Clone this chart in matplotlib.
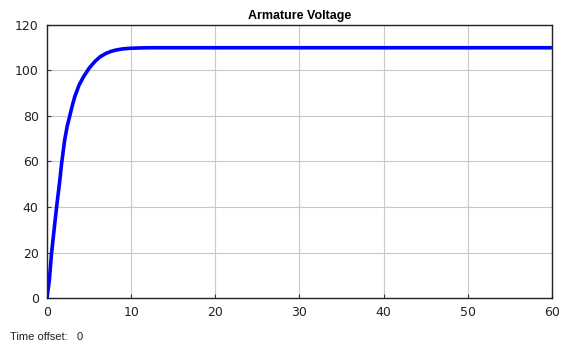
import matplotlib
matplotlib.use("Agg")
import matplotlib.pyplot as plt

# values
time = [0, 0.1, 0.28, 0.4, 0.55, 0.87, 1.14, 1.3, 1.5, 1.73, 2.1, 2.4, 2.7,
        3.0, 3.3, 3.8, 4.3, 5.0, 5.7, 6.3, 7.0, 7.6, 8.2, 9.0, 10.0, 12.0,
        60.0]
voltage = [0, 3, 7.8, 13.5, 20, 31, 40, 45, 51, 59, 69.5, 75.5, 80,
           84.5, 88.5, 93.5, 97, 101, 104, 106, 107.5, 108.4, 109, 109.5,
           109.8, 110, 110]

x_ticks = [0, 10, 20, 30, 40, 50, 60]
y_ticks = [0, 20, 40, 60, 80, 100, 120]

fig = plt.figure(figsize=(5.61, 3.52), dpi=100)
ax = fig.add_axes([0.0838, 0.1534, 0.900, 0.7756])

ax.plot(time, voltage, color="#0000ff", linewidth=2.6, solid_capstyle="butt")

ax.set_xlim(0, 60)
ax.set_ylim(0, 120)
ax.set_xticks(x_ticks)
ax.set_yticks(y_ticks)
ax.grid(True, color="#c8c8c8", linewidth=0.8)
ax.set_axisbelow(True)
ax.tick_params(direction="in", length=3, colors="#333333", labelsize=9,
               labelcolor="#222222", pad=6)
for s in ax.spines.values():
    s.set_color("#222222")
    s.set_linewidth(1.0)

ax.set_title("Armature Voltage", fontsize=9, fontweight="bold",
             family="Liberation Sans", pad=4)
fig.text(0.018, 0.033, "Time offset:   0", fontsize=8, color="#222222",
         family="Liberation Sans")

fig.savefig("out.png", dpi=100, facecolor="white")
